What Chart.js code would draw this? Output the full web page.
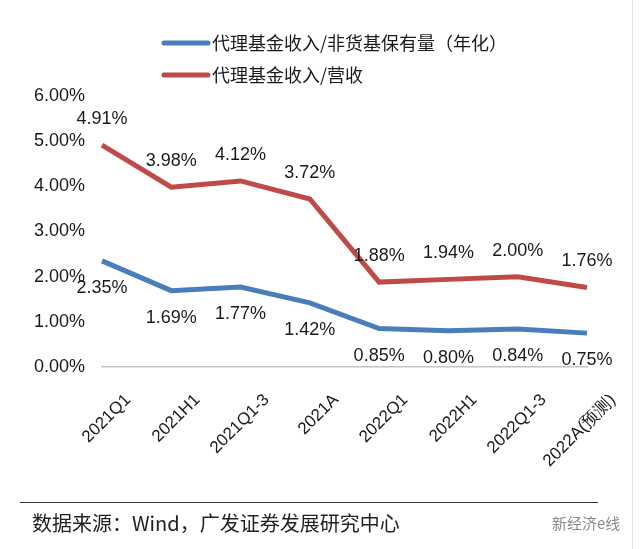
<!DOCTYPE html>
<html>
<head>
<meta charset="utf-8">
<script src="https://cdn.jsdelivr.net/npm/chart.js@4"></script>
<style>
  html, body { margin: 0; padding: 0; background: #fff; }
  #wrap { position: relative; width: 640px; height: 549px; overflow: hidden; }
  #c { position: absolute; left: 0; top: 0; }
  #rule { position: absolute; left: 20px; top: 502px; width: 578px; height: 0; border-top: 1.5px solid #333; }
  #src { position: absolute; left: 32px; top: 509px; font: 20px "Noto Sans CJK SC", "Liberation Sans", sans-serif; line-height: 28px; color: #222; white-space: nowrap; }
  #wm { position: absolute; left: 552px; top: 511px; font: 15px "Noto Sans CJK SC", sans-serif; line-height: 24px; color: #8a8a8a; white-space: nowrap; }
  #edge { position: absolute; left: 632px; top: 0; width: 1px; height: 549px; background: #e4e4e4; }
</style>
</head>
<body>
<div id="wrap">
  <canvas id="c" width="640" height="549"></canvas>
  <div id="rule"></div>
  <div id="src">数据来源：Wind，广发证券发展研究中心</div>
  <div id="wm">新经济e线</div>
  <div id="edge"></div>
</div>
<script>
const categories = ['2021Q1','2021H1','2021Q1-3','2021A','2022Q1','2022H1','2022Q1-3','2022A(预测)'];
const seriesNames = ['代理基金收入/非货基保有量（年化）', '代理基金收入/营收'];
const ratioToAUM = [2.35, 1.69, 1.77, 1.42, 0.85, 0.80, 0.84, 0.75];
const ratioToRevenue = [4.91, 3.98, 4.12, 3.72, 1.88, 1.94, 2.00, 1.76];
const yTicks = [0, 1, 2, 3, 4, 5, 6];

const BLUE = '#4A7EBB';
const RED = '#BE4B48';
const FONT = '"Liberation Sans", Arial, sans-serif';

const valueLabels = {
  id: 'valueLabels',
  afterDatasetsDraw(chart) {
    const ctx = chart.ctx;
    ctx.save();
    ctx.font = '18px ' + FONT;
    ctx.fillStyle = '#1a1a1a';
    ctx.textAlign = 'center';
    ctx.textBaseline = 'middle';
    chart.data.datasets.forEach((ds, di) => {
      const meta = chart.getDatasetMeta(di);
      meta.data.forEach((pt, i) => {
        const off = ds.labelPos === 'below' ? 27 : -26;
        ctx.fillText(ds.data[i].toFixed(2) + '%', pt.x, pt.y + off);
      });
    });
    ctx.restore();
  }
};

const customLegend = {
  id: 'customLegend',
  afterDraw(chart) {
    const ctx = chart.ctx;
    ctx.save();
    const rows = [43, 75];
    chart.data.datasets.forEach((ds, di) => {
      const y = rows[di];
      ctx.strokeStyle = ds.borderColor;
      ctx.lineWidth = 5;
      ctx.lineCap = 'round';
      ctx.beginPath();
      ctx.moveTo(164, y);
      ctx.lineTo(208, y);
      ctx.stroke();
      ctx.fillStyle = '#1a1a1a';
      ctx.font = '18px "Noto Sans CJK SC", sans-serif';
      ctx.textAlign = 'left';
      ctx.textBaseline = 'middle';
      ctx.fillText(ds.label, 212, y);
    });
    ctx.restore();
  }
};

new Chart(document.getElementById('c'), {
  type: 'line',
  data: {
    labels: categories,
    datasets: [
      { label: seriesNames[0], data: ratioToAUM, borderColor: BLUE, backgroundColor: BLUE, borderWidth: 5, pointRadius: 0, tension: 0, labelPos: 'below' },
      { label: seriesNames[1], data: ratioToRevenue, borderColor: RED, backgroundColor: RED, borderWidth: 5, pointRadius: 0, tension: 0, labelPos: 'above' }
    ]
  },
  options: {
    responsive: false,
    animation: false,
    layout: { padding: { left: 0, right: 53, top: 96, bottom: 52 } },
    plugins: { legend: { display: false }, tooltip: { enabled: false } },
    scales: {
      x: {
        grid: { display: false, drawTicks: false },
        border: { display: true, color: '#c4c4c4', width: 1.5 },
        ticks: { maxRotation: 45, minRotation: 45, padding: 23, labelOffset: 26, color: '#1a1a1a', font: { size: 17, family: FONT } },
        afterFit(scale) { scale.height = 130; }
      },
      y: {
        min: 0, max: 6,
        afterBuildTicks(scale) { scale.ticks = yTicks.map(v => ({ value: v })); },
        grid: { display: false, drawTicks: false },
        border: { display: false },
        ticks: { padding: 17, color: '#1a1a1a', font: { size: 18, family: FONT }, callback: v => v.toFixed(2) + '%' },
        afterFit(scale) { scale.width = 102; }
      }
    }
  },
  plugins: [valueLabels, customLegend]
});
</script>
</body>
</html>
